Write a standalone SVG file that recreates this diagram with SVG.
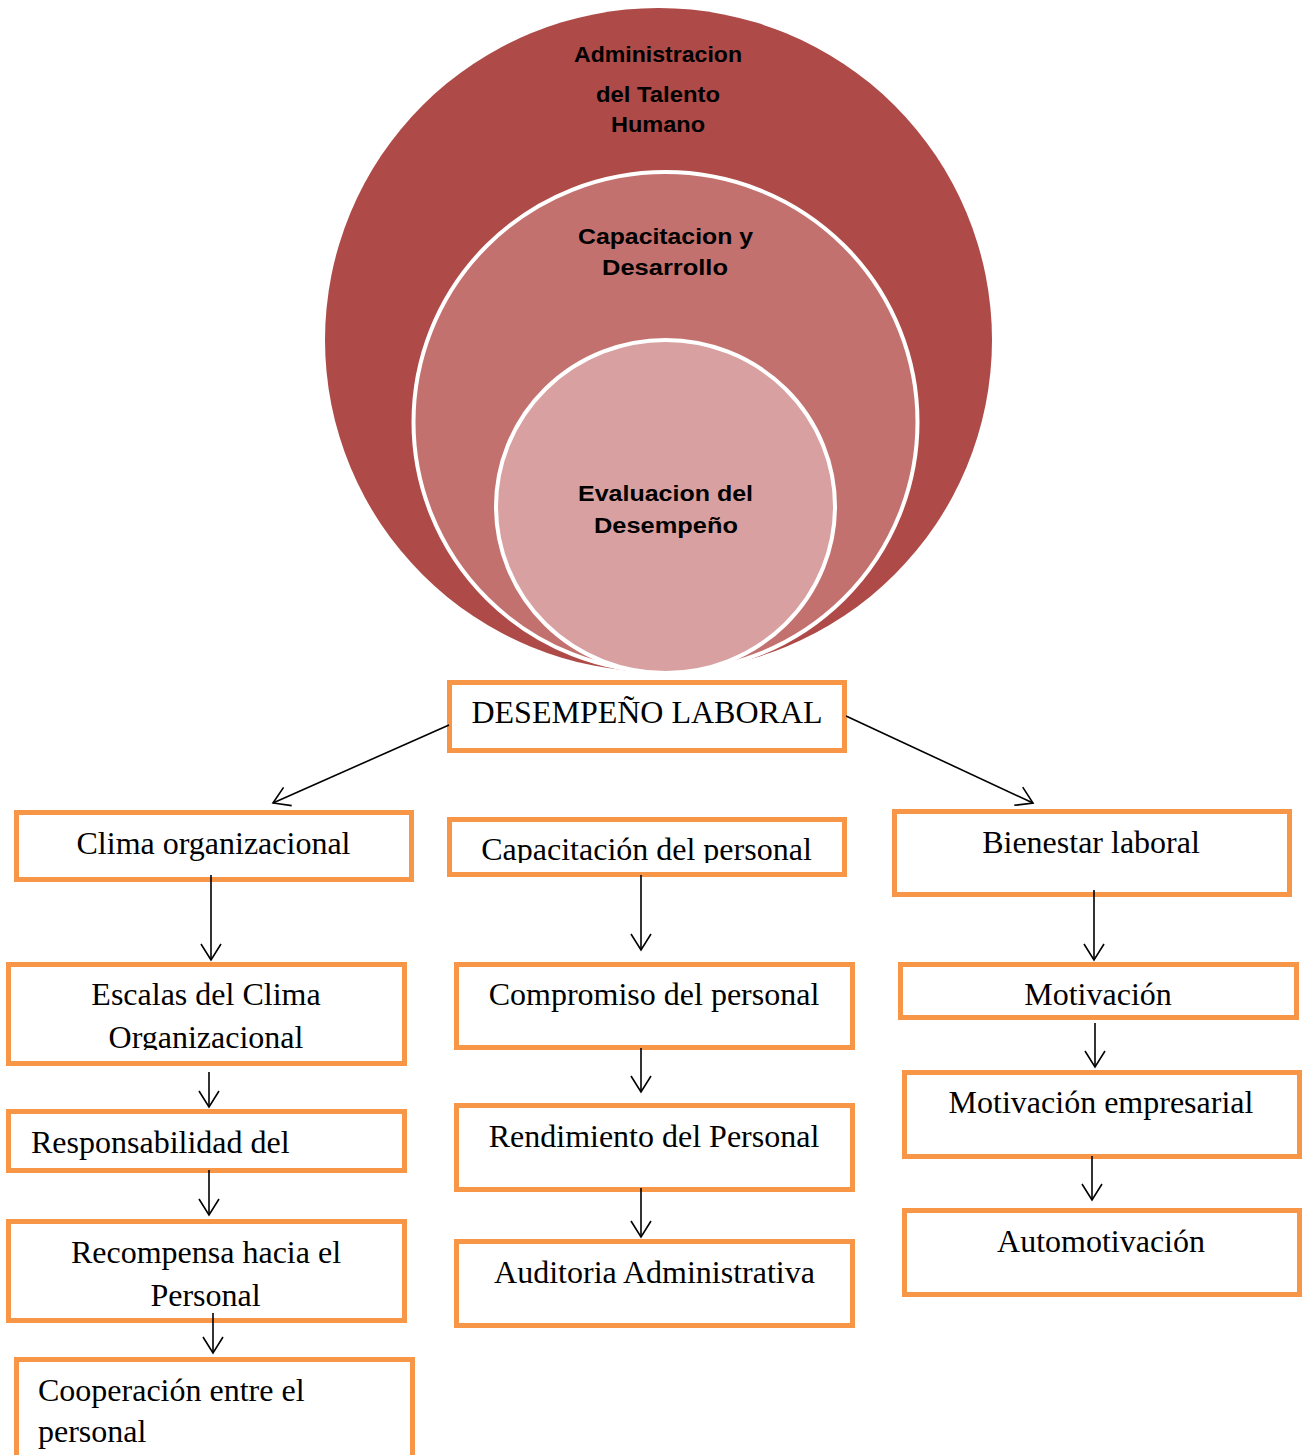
<svg xmlns="http://www.w3.org/2000/svg" width="1311" height="1455" viewBox="0 0 1311 1455">
  <style>
    .box { fill: #ffffff; stroke: #F79646; stroke-width: 5; }
    .t { font-family: "Liberation Serif", "Times New Roman", serif; font-size: 32px; fill: #000000; }
    .m { text-anchor: middle; }
    .c { font-family: "Liberation Sans Narrow", "Liberation Sans", Arial, sans-serif; font-weight: bold; font-size: 22px; fill: #000000; text-anchor: middle; }
    .conn line { stroke: #000000; stroke-width: 1.6; fill: none; marker-end: url(#arr); }
  </style>
  <defs>
    <marker id="arr" markerUnits="userSpaceOnUse" markerWidth="22" markerHeight="24" refX="17" refY="11" orient="auto" overflow="visible">
      <path d="M1,1 L17,11 L1,21" fill="none" stroke="#000000" stroke-width="1.6"/>
    </marker>
    <clipPath id="clipCap"><rect x="447" y="817" width="400" height="46"/></clipPath>
    <clipPath id="clipOrg"><rect x="6" y="962" width="401" height="88"/></clipPath>
  </defs>
  <rect x="0" y="0" width="1311" height="1455" fill="#ffffff"/>

  <g id="circles">
    <g id="outer">
      <ellipse cx="658.5" cy="340" rx="333.5" ry="332" fill="#AE4A47"/>
      <text class="c" x="658" y="62" textLength="168" lengthAdjust="spacingAndGlyphs">Administracion</text>
      <text class="c" x="658" y="102" textLength="124" lengthAdjust="spacingAndGlyphs">del Talento</text>
      <text class="c" x="658" y="132" textLength="94" lengthAdjust="spacingAndGlyphs">Humano</text>
    </g>
    <g id="middle">
      <ellipse cx="665.5" cy="422" rx="252" ry="250" fill="#C3716E" stroke="#ffffff" stroke-width="4"/>
      <text class="c" x="665.5" y="244" textLength="175" lengthAdjust="spacingAndGlyphs">Capacitacion y</text>
      <text class="c" x="665" y="275" textLength="126" lengthAdjust="spacingAndGlyphs">Desarrollo</text>
    </g>
    <g id="inner">
      <ellipse cx="665.5" cy="506.5" rx="169.5" ry="166.5" fill="#D8A0A0" stroke="#ffffff" stroke-width="4"/>
      <text class="c" x="665.5" y="501" textLength="175" lengthAdjust="spacingAndGlyphs">Evaluacion del</text>
      <text class="c" x="666" y="533" textLength="144" lengthAdjust="spacingAndGlyphs">Desempeño</text>
    </g>
  </g>

  <g id="desempeno">
    <rect class="box" x="449.5" y="682.5" width="395" height="68"/>
    <text class="t m" x="647" y="723">DESEMPEÑO LABORAL</text>
  </g>

  <g id="clima">
    <rect class="box" x="16.5" y="812.5" width="395" height="67"/>
    <text class="t m" x="213.5" y="854">Clima organizacional</text>
  </g>
  <g id="capacitacion">
    <rect class="box" x="449.5" y="819.5" width="395" height="55"/>
    <text class="t m" x="646.5" y="860" clip-path="url(#clipCap)">Capacitación del personal</text>
  </g>
  <g id="bienestar">
    <rect class="box" x="894.5" y="811.5" width="395" height="83"/>
    <text class="t m" x="1091" y="853">Bienestar laboral</text>
  </g>

  <g id="escalas">
    <rect class="box" x="8.5" y="964.5" width="396" height="99"/>
    <text class="t m" x="206" y="1005">Escalas del Clima</text>
    <text class="t m" x="206" y="1048" clip-path="url(#clipOrg)">Organizacional</text>
  </g>
  <g id="responsabilidad">
    <rect class="box" x="8.5" y="1111.5" width="396" height="59"/>
    <text class="t" x="31" y="1153">Responsabilidad del</text>
  </g>
  <g id="recompensa">
    <rect class="box" x="8.5" y="1221.5" width="396" height="99"/>
    <text class="t m" x="206" y="1263">Recompensa hacia el</text>
    <text class="t m" x="205.5" y="1306">Personal</text>
  </g>
  <g id="cooperacion">
    <rect class="box" x="16.5" y="1359.5" width="396" height="130"/>
    <text class="t" x="38" y="1401">Cooperación entre el</text>
    <text class="t" x="38" y="1442">personal</text>
  </g>

  <g id="compromiso">
    <rect class="box" x="456.5" y="964.5" width="396" height="83"/>
    <text class="t m" x="654" y="1005">Compromiso del personal</text>
  </g>
  <g id="rendimiento">
    <rect class="box" x="456.5" y="1105.5" width="396" height="84"/>
    <text class="t m" x="654" y="1147">Rendimiento del Personal</text>
  </g>
  <g id="auditoria">
    <rect class="box" x="456.5" y="1241.5" width="396" height="84"/>
    <text class="t m" x="654.5" y="1283">Auditoria Administrativa</text>
  </g>

  <g id="motivacion">
    <rect class="box" x="900.5" y="964.5" width="396" height="53"/>
    <text class="t m" x="1098" y="1005">Motivación</text>
  </g>
  <g id="motivacion-empresarial">
    <rect class="box" x="904.5" y="1072.5" width="395" height="84"/>
    <text class="t m" x="1101" y="1113">Motivación empresarial</text>
  </g>
  <g id="automotivacion">
    <rect class="box" x="904.5" y="1210.5" width="395" height="84"/>
    <text class="t m" x="1101" y="1252">Automotivación</text>
  </g>

  <g id="connectors" class="conn">
    <line x1="449" y1="725" x2="273" y2="803"/>
    <line x1="846" y1="716" x2="1033" y2="803"/>
    <line x1="211" y1="875" x2="211" y2="960"/>
    <line x1="641" y1="875" x2="641" y2="950"/>
    <line x1="1094" y1="890" x2="1094" y2="960"/>
    <line x1="209" y1="1072" x2="209" y2="1107"/>
    <line x1="209" y1="1170" x2="209" y2="1215"/>
    <line x1="213" y1="1313" x2="213" y2="1353"/>
    <line x1="641" y1="1048" x2="641" y2="1092"/>
    <line x1="641" y1="1188" x2="641" y2="1237"/>
    <line x1="1095" y1="1023" x2="1095" y2="1067"/>
    <line x1="1092" y1="1156" x2="1092" y2="1200"/>
  </g>
</svg>
